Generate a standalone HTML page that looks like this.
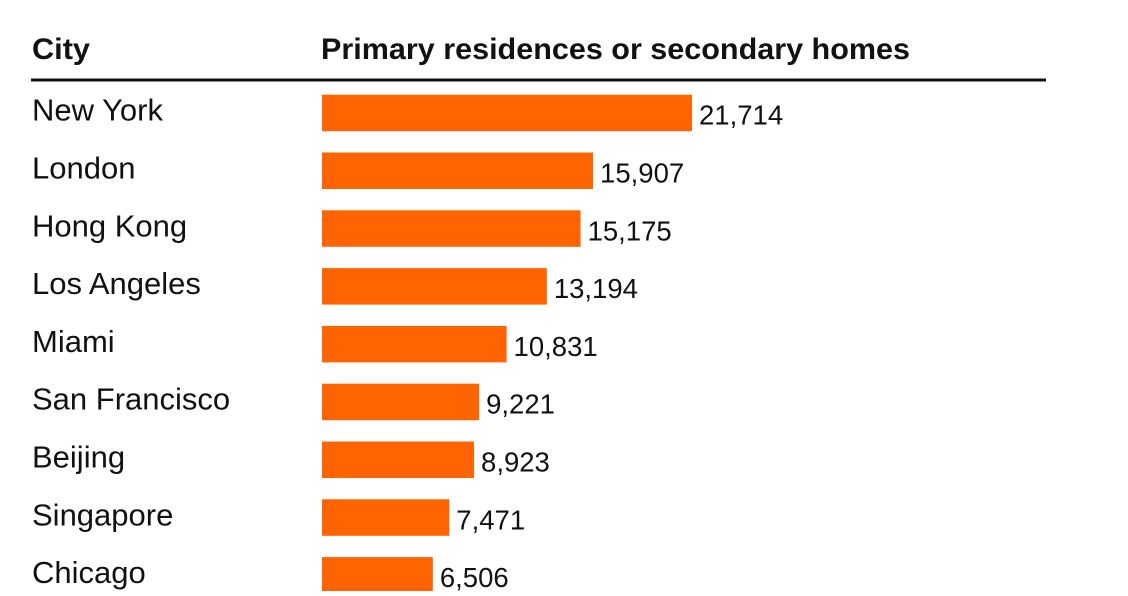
<!DOCTYPE html>
<html><head><meta charset="utf-8"><style>
body{margin:0;background:#fff;width:1128px;height:591px;overflow:hidden;font-family:"Liberation Sans",Arial,sans-serif;}
svg text{font-family:"Liberation Sans",Arial,sans-serif;}
</style></head><body>
<svg width="1128" height="591">
<text x="32" y="59" font-size="30" font-weight="bold" fill="#111" textLength="58" lengthAdjust="spacingAndGlyphs">City</text>
<text x="321" y="59" font-size="30" font-weight="bold" fill="#111" textLength="589" lengthAdjust="spacingAndGlyphs">Primary residences or secondary homes</text>
<rect x="31" y="78.5" width="1015" height="3" fill="#111"/>
<g id="rows"></g>
</svg>
<script>
const cities=["New York","London","Hong Kong","Los Angeles","Miami","San Francisco","Beijing","Singapore","Chicago"];
const values=[21714,15907,15175,13194,10831,9221,8923,7471,6506];
const labels=["21,714","15,907","15,175","13,194","10,831","9,221","8,923","7,471","6,506"];
const NS="http://www.w3.org/2000/svg";
const g=document.getElementById("rows");
const x0=322,scale=370/21714;
function xw(v){return v*scale;}
function yt(i){return 94.7+i*57.8;}
cities.forEach((c,i)=>{
  const y=yt(i);
  const t=document.createElementNS(NS,"text");
  t.setAttribute("x",32);t.setAttribute("y",y+26);t.setAttribute("font-size","31");t.setAttribute("fill","#111");
  t.textContent=c;
  
  
  g.appendChild(t);
  const r=document.createElementNS(NS,"rect");
  r.setAttribute("x",x0);r.setAttribute("y",y);r.setAttribute("width",xw(values[i]));r.setAttribute("height",36.5);r.setAttribute("fill","#ff6400");
  
  
  g.appendChild(r);
  const v=document.createElementNS(NS,"text");
  v.setAttribute("x",x0+xw(values[i])+7);v.setAttribute("y",y+30);v.setAttribute("font-size","27.5");v.setAttribute("fill","#111");
  v.textContent=labels[i];
  
  
  g.appendChild(v);
});
</script>
</body></html>
